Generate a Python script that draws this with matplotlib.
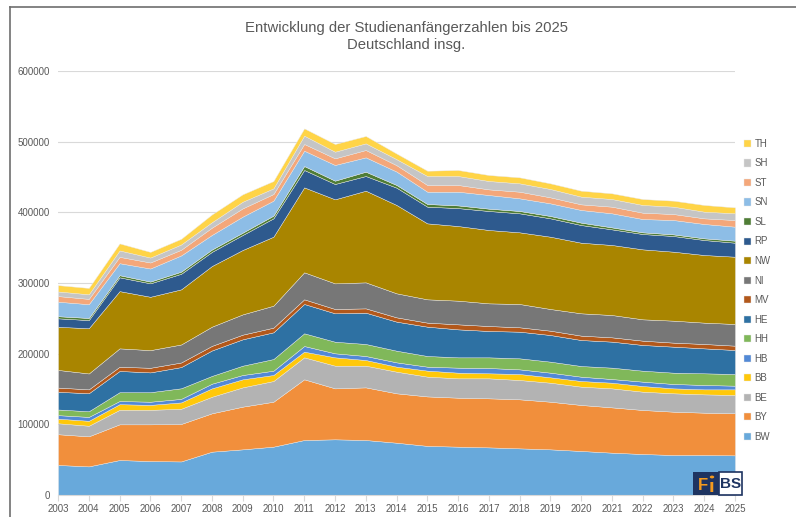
import numpy as np
import matplotlib.pyplot as plt
from matplotlib.patches import Rectangle, Circle
from matplotlib.lines import Line2D

plt.rcParams['font.family'] = ['Liberation Sans', 'DejaVu Sans']

# Studienanfaenger je Bundesland, 2003 - 2025
years = np.arange(2003, 2026)

BW = [42500, 40500, 49500, 48000, 47500, 61300, 64600, 68400, 77800, 78800, 77800, 74000,
      69500, 68400, 67400, 66000, 64600, 62300, 59900, 58000, 56600, 56600, 56100]
BY = [43500, 42500, 50500, 52000, 53000, 54300, 60400, 63600, 85900, 72100, 74500, 69900,
      70000, 69300, 69400, 69400, 67400, 65100, 64100, 62300, 61300, 59900, 59500]
BE = [15500, 15000, 20500, 20500, 21500, 23400, 27300, 29300, 31100, 32100, 30700, 30600,
      28000, 27400, 28300, 27300, 26900, 25900, 26900, 25900, 26000, 25900, 25900]
BB = [6500, 7000, 8000, 7000, 9000, 11900, 11400, 8500, 8000, 11800, 8000, 7100,
      8500, 8000, 7100, 8500, 7600, 8000, 8000, 8000, 7000, 7100, 8000]
HB = [5000, 5500, 4500, 4500, 5000, 6600, 6100, 6100, 8000, 5700, 5700, 6100,
      5600, 7100, 7500, 6600, 6600, 6100, 5200, 6200, 6200, 6200, 5200]
HH = [8000, 8000, 12500, 13500, 15000, 11000, 13200, 16500, 18000, 16400, 17000, 16500,
      15100, 14600, 15100, 15600, 15600, 15100, 16100, 15500, 16000, 16500, 16500]
HE = [25000, 25500, 30000, 28000, 30000, 36000, 37300, 37800, 41500, 40200, 44300, 41100,
      41500, 39600, 37300, 37700, 37700, 36800, 36800, 36400, 36800, 35300, 34000]
MV = [6000, 5500, 6000, 6500, 6500, 6500, 6600, 6600, 6600, 6100, 6100, 6100,
      5700, 7100, 7000, 6200, 6100, 6200, 6100, 6100, 5700, 6200, 6100]
NI = [25000, 22500, 26000, 25000, 25500, 27200, 28700, 31100, 38200, 36300, 36800, 34000,
      33000, 33500, 32100, 33000, 30700, 31600, 31600, 30200, 31100, 30200, 30700]
NW = [61000, 64000, 81000, 75500, 78000, 85800, 91100, 97600, 120200, 118900, 129700, 125000,
      107500, 105600, 103800, 101400, 102300, 99900, 99100, 99000, 97600, 95700, 95200]
RP = [12000, 11500, 19500, 19000, 22000, 20000, 21200, 26000, 24600, 21700, 20800, 24500,
      23600, 25400, 26900, 26900, 26000, 25000, 22100, 21700, 22200, 21200, 19800]
SL = [3000, 3000, 3000, 2500, 3000, 3300, 3300, 3800, 5600, 4700, 6100, 3800,
      3800, 3800, 3300, 3300, 3300, 3400, 2800, 2400, 2300, 2400, 2900]
SN = [20500, 19500, 17000, 18500, 23000, 20700, 22700, 21200, 21700, 22200, 20300, 19000,
      17400, 19400, 19300, 17900, 17900, 17900, 19900, 18800, 20300, 20300, 19800]
ST = [8000, 7500, 9000, 8500, 8000, 10300, 11700, 9400, 9500, 9400, 10400, 9000,
      9500, 9500, 8000, 9400, 8500, 8000, 9400, 9000, 8500, 8000, 9400]
SH = [6500, 6500, 9000, 7000, 7500, 7700, 9400, 8000, 11800, 9400, 9400, 8500,
      12700, 12700, 11800, 11800, 11800, 10900, 10800, 10900, 10400, 9400, 9500]
TH = [9000, 9000, 10000, 8000, 8000, 11000, 10500, 10400, 10300, 10900, 10400, 8000,
      7500, 8500, 8500, 8500, 8000, 8400, 8100, 8400, 8500, 9500, 8400]

labels = ['BW', 'BY', 'BE', 'BB', 'HB', 'HH', 'HE', 'MV',
          'NI', 'NW', 'RP', 'SL', 'SN', 'ST', 'SH', 'TH']
colors = ['#68A9DB', '#F18F3C', '#B3B3B3', '#FFC80A', '#5289D6', '#80B85A', '#2E71A3', '#B2581B',
          '#777777', '#A98500', '#2E5A8E', '#4F7D36', '#8DBDE6', '#F4A77A', '#C5C5C5', '#FFD447']

series = [BW, BY, BE, BB, HB, HH, HE, MV, NI, NW, RP, SL, SN, ST, SH, TH]

txt = '#595959'

fig = plt.figure(figsize=(7.96, 5.17), dpi=100)
ax = fig.add_axes([58/796, 1 - 495/517, (735-58)/796, (495-71)/517])

polys = ax.stackplot(years, *series, labels=labels, colors=colors,
                     edgecolor='#E8E8E8', linewidth=0.3)

ax.set_xlim(2003, 2025)
ax.set_ylim(0, 600000)
ax.set_yticks(np.arange(0, 600001, 100000))
ax.set_yticklabels([str(v) for v in range(0, 600001, 100000)])
ax.set_xticks(years)
ax.set_xticklabels([str(y) for y in years])
ax.grid(axis='y', color='#D9D9D9', linewidth=0.8)
ax.set_axisbelow(True)
for s in ['top', 'right', 'left']:
    ax.spines[s].set_visible(False)
ax.spines['bottom'].set_color('#D9D9D9')
ax.tick_params(axis='y', length=0, labelsize=7, labelcolor=txt, pad=6)
ax.tick_params(axis='x', length=4, color='#D9D9D9', labelsize=7, labelcolor=txt, pad=2.5)

# title
fig.text(406/796, 1 - 28/517, 'Entwicklung der Studienanfängerzahlen bis 2025',
         ha='center', va='center', fontsize=10.7, color=txt)
fig.text(406/796, 1 - 45/517, 'Deutschland insg.',
         ha='center', va='center', fontsize=10.7, color=txt)

# legend, TH on top
h, l = ax.get_legend_handles_labels()
leg = fig.legend(h[::-1], l[::-1], loc='upper left', bbox_to_anchor=(739/796, 1 - 134/517),
                 frameon=False, fontsize=7, handlelength=0.75, handleheight=0.75,
                 handletextpad=0.35, labelspacing=0.98, borderpad=0)
for t in leg.get_texts():
    t.set_color(txt)

# frame lines of the chart box
fig.add_artist(Line2D([10/796, 1], [1 - 7/517, 1 - 7/517], color='#6E6E6E', linewidth=1.2))
fig.add_artist(Line2D([10/796, 10/796], [0, 1 - 7/517], color='#6E6E6E', linewidth=1.2))

# FiBS logo
W, H = 796, 517
fig.add_artist(Rectangle((693/W, 1 - 495/H), 26/W, 23/H, transform=fig.transFigure,
                         facecolor='#1E3461', edgecolor='none', zorder=5))
fig.add_artist(Rectangle((719/W, 1 - 495/H), 23/W, 23/H, transform=fig.transFigure,
                         facecolor='white', edgecolor='#1E3461', linewidth=1.2, zorder=5))
fig.text(698/W, 1 - 486/H, 'F', fontsize=12, fontweight='bold', color='#F39A1E',
         ha='left', va='center', zorder=6)
fig.text(709/W, 1 - 487/H, 'ı', fontsize=12, fontweight='bold', color='#F39A1E',
         ha='left', va='center', zorder=6, family='DejaVu Sans')
fig.add_artist(Circle((712/W, 1 - 477/H), 2.2/W, transform=fig.transFigure,
                      facecolor='#F39A1E', edgecolor='none', zorder=6))
fig.text(730.5/W, 1 - 484/H, 'BS', fontsize=11, fontweight='bold', color='#1E3461',
         ha='center', va='center', zorder=6)

fig.savefig('out.png', dpi=100)
